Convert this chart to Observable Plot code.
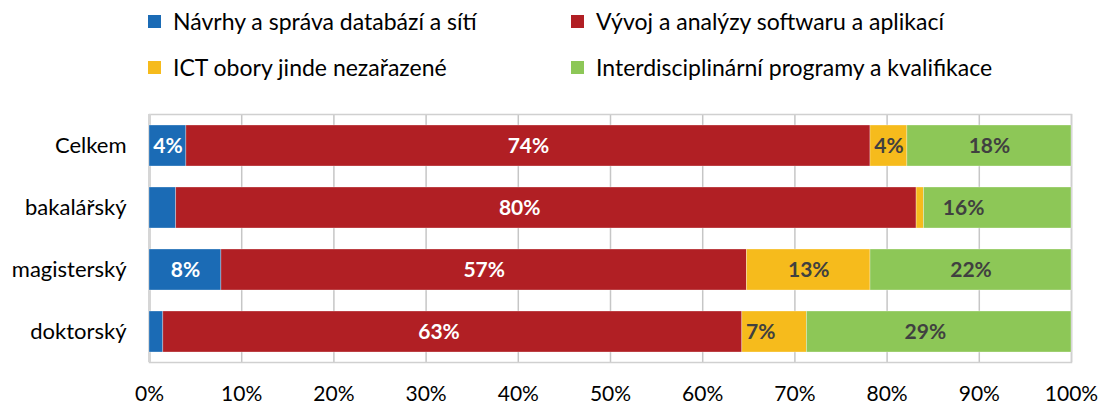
<!DOCTYPE html>
<html><head><meta charset="utf-8">
<script src="https://cdn.jsdelivr.net/npm/d3@7"></script>
<script src="https://cdn.jsdelivr.net/npm/@observablehq/plot@0.6"></script>
<style>
body{margin:0;background:#fff;font-family:Lato,"Noto Sans",sans-serif;}
#wrap{position:relative;width:1100px;height:404px;overflow:hidden;}
#legend{position:relative;width:1100px;height:100px;}
.item{position:absolute;display:flex;align-items:center;height:26px;font-size:23px;color:#000;white-space:nowrap;}
.sw{width:13px;height:13px;margin-right:12px;flex:none;}
#chart svg{display:block;}
</style></head><body>
<div id="wrap"><div id="legend"></div><div id="chart"></div></div>
<script>
const categories = ["Celkem", "bakalářský", "magisterský", "doktorský"];
const seriesNames = [
  "Návrhy a správa databází a sítí",
  "Vývoj a analýzy softwaru a aplikací",
  "ICT obory jinde nezařazené",
  "Interdisciplinární programy a kvalifikace"
];
const seriesColors = ["#1b6bb5", "#b11f24", "#f6bb1c", "#8dc757"];
const labelColors = ["#ffffff", "#ffffff", "#404040", "#404040"];
const navrhy = [4.0, 2.9, 7.8, 1.5];
const vyvoj = [74.2, 80.3, 57.0, 62.8];
const ict = [4.0, 0.8, 13.4, 7.0];
const interdisc = [17.8, 16.0, 21.8, 28.7];
const xTicks = [0, 10, 20, 30, 40, 50, 60, 70, 80, 90, 100];

const seriesValues = [navrhy, vyvoj, ict, interdisc];
const rows = [];
seriesNames.forEach((s, si) => categories.forEach((c, ci) => {
  rows.push({cat: c, series: s, si, value: seriesValues[si][ci]});
}));

// legend
const legendPos = [[148, 8], [571, 8], [148, 54], [571, 54]];
const legend = document.getElementById("legend");
seriesNames.forEach((s, i) => {
  const d = document.createElement("div");
  d.className = "item";
  d.style.left = legendPos[i][0] + "px";
  d.style.top = legendPos[i][1] + "px";
  d.innerHTML = `<span class="sw" style="background:${seriesColors[i]}"></span><span>${s}</span>`;
  legend.appendChild(d);
});

const chart = Plot.plot({
  width: 1100,
  height: 304,
  marginTop: 14,
  marginBottom: 42,
  marginLeft: 149,
  marginRight: 29,
  style: {fontFamily: "Lato, 'Noto Sans', sans-serif", fontSize: "21px", color: "#000", background: "#fff"},
  x: {domain: [0, 100], ticks: xTicks, tickFormat: d => d + "%", label: null},
  y: {domain: categories, paddingInner: 0.34, paddingOuter: 0.17, label: null},
  color: {domain: seriesNames, range: seriesColors},
  marks: [
    Plot.ruleX(xTicks, {stroke: "#c6c6c6", strokeWidth: 1.5}),
    Plot.frame({stroke: "#d0d0d0", strokeWidth: 1.5}),
    Plot.ruleX([0], {stroke: "#d6d6d6", strokeWidth: 3}),
    Plot.barX(rows, Plot.stackX({y: "cat", x: "value", fill: "series", z: "series", order: null, stroke: "#ffffff", strokeOpacity: 0.5, strokeWidth: 0.6})),
    Plot.text(rows, Plot.stackX({
      filter: d => d.value >= 3.5,
      y: "cat", x: "value", z: "series", order: null,
      text: d => Math.round(d.value) + "%",
      fill: d => labelColors[d.si],
      fontWeight: "bold", fontSize: 21
    })),
    Plot.axisX({ticks: xTicks, tickSize: 0, tickPadding: 24, tickFormat: d => d + "%", fontSize: 21, fill: "#000"}),
    Plot.axisY({tickSize: 0, tickPadding: 23, fontSize: 22, fill: "#000"})
  ]
});
document.getElementById("chart").appendChild(chart);
</script>
</body></html>
